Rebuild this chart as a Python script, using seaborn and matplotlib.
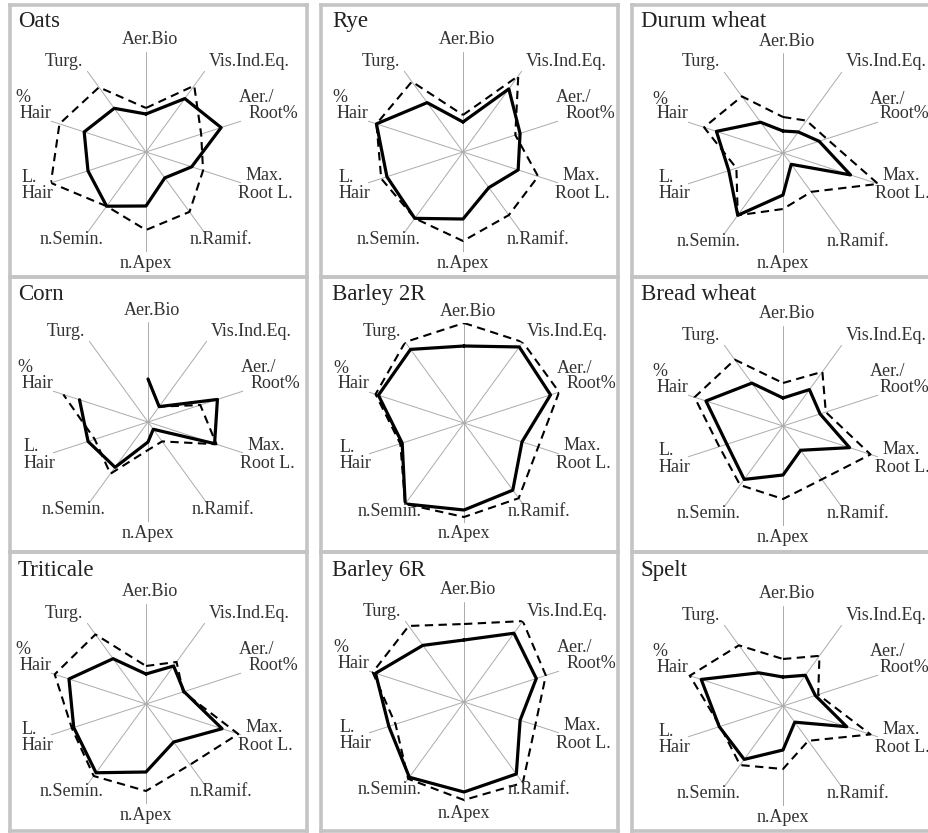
import numpy as np
import pandas as pd
import matplotlib
matplotlib.use("Agg")
import matplotlib.pyplot as plt
import seaborn as sns
from matplotlib.lines import Line2D

sns.set_style("white")
plt.rcParams["font.family"] = ["Liberation Serif", "DejaVu Serif"]

# ---------------- data ----------------
variables = ["Aer.Bio", "Vis.Ind.Eq.", "Aer./\nRoot%", "Max.\nRoot L.", "n.Ramif.",
             "n.Apex", "n.Semin.", "L.\nHair", "%\nHair", "Turg."]
crops = ["Oats", "Rye", "Durum wheat", "Corn", "Barley 2R", "Bread wheat",
         "Triticale", "Barley 6R", "Spelt"]

# solid line series
oats_solid = [0.38, 0.66, 0.79, 0.48, 0.32, 0.54, 0.67, 0.61, 0.65, 0.54]
rye_solid = [0.30, 0.78, 0.60, 0.58, 0.44, 0.67, 0.82, 0.80, 0.91, 0.61]
durum_solid = [0.22, 0.26, 0.38, 0.71, 0.14, 0.42, 0.77, 0.57, 0.70, 0.38]
corn_solid = [0.43, 0.19, 0.73, 0.70, 0.09, 0.20, 0.56, 0.63, 0.72, np.nan]
barley2r_solid = [0.77, 0.94, 0.91, 0.61, 0.83, 0.87, 1.00, 0.65, 0.90, 0.91]
bread_solid = [0.28, 0.45, 0.39, 0.70, 0.30, 0.49, 0.66, 0.59, 0.81, 0.53]
triticale_solid = [0.30, 0.47, 0.40, 0.80, 0.47, 0.68, 0.85, 0.76, 0.81, 0.56]
barley6r_solid = [0.62, 0.85, 0.76, 0.59, 0.89, 0.90, 0.93, 0.79, 0.93, 0.70]
spelt_solid = [0.29, 0.38, 0.34, 0.67, 0.20, 0.44, 0.66, 0.67, 0.86, 0.41]

# dashed line series
oats_dashed = [0.44, 0.82, 0.58, 0.60, 0.74, 0.78, 0.67, 1.00, 0.91, 0.80]
rye_dashed = [0.37, 0.94, 0.55, 0.79, 0.78, 0.89, 0.82, 0.86, 0.91, 0.87]
durum_dashed = [0.36, 0.40, 0.46, 1.00, 0.48, 0.56, 0.77, 0.49, 0.83, 0.70]
corn_dashed = [0.43, 0.19, 0.55, 0.72, 0.24, 0.28, 0.64, 0.56, 0.89, np.nan]
barley2r_dashed = [1.00, 1.00, 1.00, 0.78, 0.93, 0.94, 1.00, 0.67, 0.93, 1.00]
bread_dashed = [0.43, 0.67, 0.45, 0.92, 0.66, 0.73, 0.73, 0.67, 0.93, 0.82]
triticale_dashed = [0.38, 0.52, 0.39, 0.97, 0.75, 0.87, 0.89, 0.78, 0.96, 0.86]
barley6r_dashed = [0.78, 1.00, 0.86, 0.75, 1.00, 0.98, 0.95, 0.72, 0.96, 0.94]
spelt_dashed = [0.47, 0.62, 0.37, 0.92, 0.43, 0.63, 0.73, 0.66, 0.98, 0.75]

solid_series = [oats_solid, rye_solid, durum_solid, corn_solid, barley2r_solid,
                bread_solid, triticale_solid, barley6r_solid, spelt_solid]
dashed_series = [oats_dashed, rye_dashed, durum_dashed, corn_dashed, barley2r_dashed,
                 bread_dashed, triticale_dashed, barley6r_dashed, spelt_dashed]

# ---------------- layout ----------------
W, H = 929, 833
fig = plt.figure(figsize=(W / 100, H / 100), dpi=100)
fig.patch.set_facecolor("white")

centers = [(146, 152), (463, 152), (783, 153),
           (148, 422), (464, 423), (783, 426),
           (146, 704), (464, 702), (783, 706)]
R = 100  # px radius
col_left = [10, 321, 632]
col_right = [307, 618, None]
row_top = [5, 277, 552]
row_bot = [277, 552, 831]
title_x = [18, 332, 641]
title_y = [11, 284, 560]

angles = np.deg2rad(np.arange(len(variables)) * 36.0)

def fx(x):
    return x / W

def fy(y):
    return 1 - y / H

border_col = "#c4c4c4"
for r in range(3):
    for c in range(3):
        x0, x1 = col_left[c], col_right[c]
        y0, y1 = row_top[r], row_bot[r]
        xe = x1 if x1 is not None else W
        segs = [(x0, y0, xe, y0), (x0, y1, xe, y1), (x0, y0, x0, y1)]
        if x1 is not None:
            segs.append((x1, y0, x1, y1))
        for (xa, ya, xb, yb) in segs:
            fig.add_artist(Line2D([fx(xa), fx(xb)], [fy(ya), fy(yb)], color=border_col,
                                  lw=2.6, solid_capstyle="projecting", transform=fig.transFigure))

def to_frame(vals):
    vals = list(vals)
    th = list(angles) + [2 * np.pi]
    rr = vals + [vals[0]]
    seg, rows = 0, []
    for t, v in zip(th, rr):
        if np.isnan(v):
            seg += 1
            continue
        rows.append((t, v, seg))
    return pd.DataFrame(rows, columns=["theta", "r", "seg"])

# per-line label positions (centre offsets in px from the radar centre)
label_lines = [
    [(4, -112)], [(103, -91)], [(111, -54), (127, -39)], [(118, 23), (119, 41)],
    [(75, 88)], [(0, 111)], [(-74, 88)], [(-117, 25), (-109, 41)],
    [(-123, -54), (-111, -39)], [(-82, -91)],
]

for i, crop in enumerate(crops):
    r_, c_ = divmod(i, 3)
    cx, cy = centers[i]
    ax = fig.add_axes([fx(cx - R), fy(cy + R), 2 * R / W, 2 * R / H], projection="polar")
    ax.set_theta_zero_location("N")
    ax.set_theta_direction(-1)
    ax.set_facecolor("none")
    ax.set_xticks(angles)
    ax.set_xticklabels([])
    ax.set_yticks([])
    ax.xaxis.grid(True, color="#ababab", lw=0.7)
    ax.yaxis.grid(False)
    ax.spines["polar"].set_visible(False)

    dfd = to_frame(dashed_series[i])
    dfs = to_frame(solid_series[i])
    sns.lineplot(data=dfd, x="theta", y="r", units="seg", estimator=None, sort=False,
                 color="black", lw=1.5, linestyle=(0, (4, 2.6)), ax=ax, legend=False)
    sns.lineplot(data=dfs, x="theta", y="r", units="seg", estimator=None, sort=False,
                 color="black", lw=2.3, ax=ax, legend=False)
    ax.set_xlabel("")
    ax.set_ylabel("")
    ax.set_ylim(0, 1.0)

    for name, pos in zip(variables, label_lines):
        parts = name.split("\n")
        for txt, (dx, dy) in zip(parts, pos):
            if c_ == 2 and txt in ("Root%", "Aer./"):
                dx -= 6
            fig.text(fx(cx + dx), fy(cy + dy), txt, ha="center", va="center",
                     fontsize=13, color="#333333")

    fig.text(fx(title_x[c_]), fy(title_y[r_]), crop, ha="left", va="top",
             fontsize=16.5, color="#222222")

fig.savefig("out.png", dpi=100, facecolor="white")
